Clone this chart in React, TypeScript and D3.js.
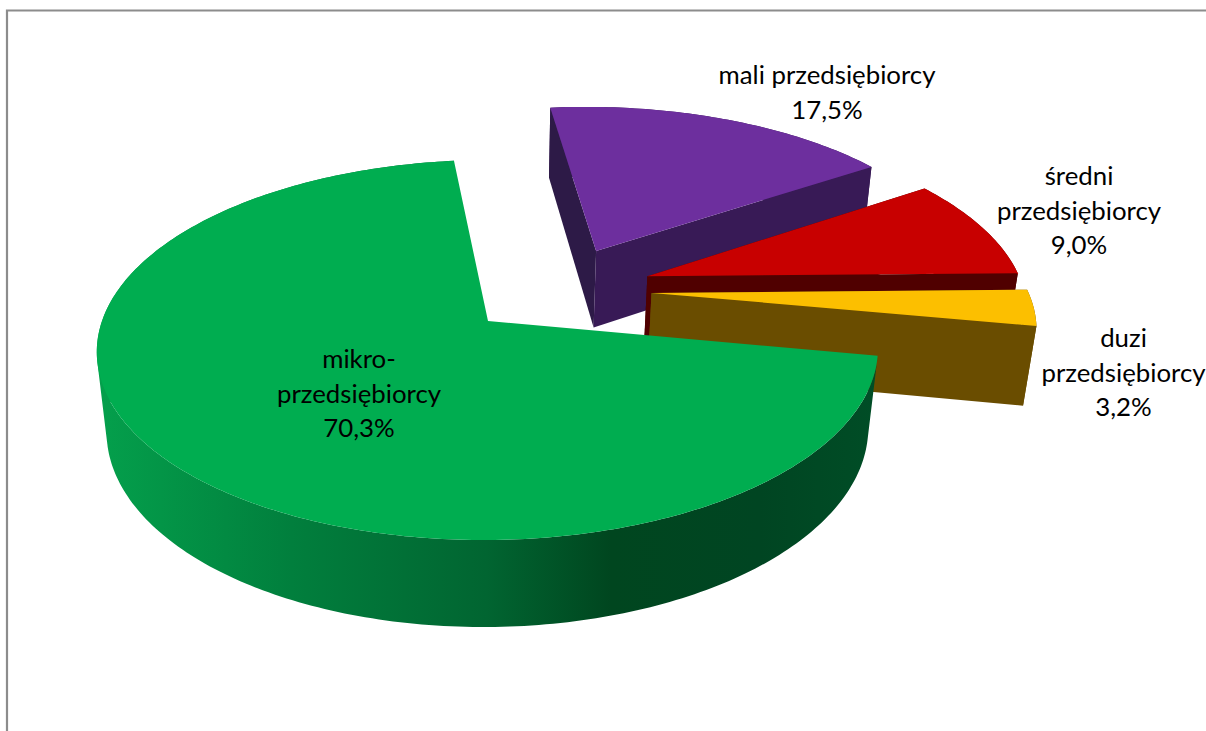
import * as d3 from "d3";

const categories = ["mikro-przedsiębiorcy", "mali przedsiębiorcy", "średni przedsiębiorcy", "duzi przedsiębiorcy"];
const shares = [70.3, 17.5, 9.0, 3.2];
const labelLines = [
  ["mikro-", "przedsiębiorcy", "70,3%"],
  ["mali przedsiębiorcy", "17,5%"],
  ["średni", "przedsiębiorcy", "9,0%"],
  ["duzi", "przedsiębiorcy", "3,2%"],
];
const topColors = ["#00ad50", "#6d2f9e", "#c80000", "#fcbf00"];
const wallColors = ["url(#greenWall)", "#381a56", "#500000", "#6a4d00"];
const sideColors = ["#00421f", "#2d1a47", "#500000", "#6a4d00"];

const width = 1206;
const height = 731;

// perspective model of the tilted disc, fitted to the picture
const cx = 488;
const cy = 321;
const radiusX = 386;
const radiusY = 185.6;
const depth = 81.4;
const tilt = 0.1525;
const shrink = 0.025;
const skew = -4;
const startDeg = 100.5;

// how far each slice is pulled out, in disc units
const explode: [number, number][] = [
  [0, 0],
  [0.293, -0.4],
  [0.426, -0.25],
  [0.432, -0.155],
];
const labelX = [359, 827, 1079, 1123.5];
const labelY = [368, 84, 185, 347];
const lineGap = 34.5;

type Pt = [number, number];

function project(x: number, y: number, z: number): Pt {
  const w = 1 / (1 - tilt * y + shrink * z);
  return [cx + (radiusX * x + skew * y) * w, cy + (radiusY * y + depth * z) * w];
}

const line = d3.line();
const pieLayout = d3
  .pie<number>()
  .sort(null)
  .startAngle((startDeg * Math.PI) / 180)
  .endAngle(((startDeg + 360) * Math.PI) / 180);

const rim = (a: number, i: number, z: number) =>
  project(explode[i][0] + Math.sin(a), explode[i][1] - Math.cos(a), z);
const apex = (i: number, z: number) => project(explode[i][0], explode[i][1], z);

const arcPoints = (a0: number, a1: number, i: number, z: number) => {
  const n = Math.max(4, Math.ceil((a1 - a0) * 60));
  return d3.range(n + 1).map((k) => rim(a0 + ((a1 - a0) * k) / n, i, z));
};

// outer wall as one path of small quads, all wound the same way so overlaps stay filled
const outerWall = (top: Pt[], bottom: Pt[]) =>
  d3
    .pairs(d3.range(top.length))
    .map(([p, q]) => {
      const quad = [top[p], top[q], bottom[q], bottom[p]];
      if (d3.polygonArea(quad) < 0) quad.reverse();
      return line(quad) + "Z";
    })
    .join("");

export default function App() {
  const slices = pieLayout(shares);
  return (
    <svg
      width={width}
      height={height}
      viewBox={`0 0 ${width} ${height}`}
      style={{ position: "absolute", left: 0, top: 0, display: "block", background: "#fff" }}
      role="img"
      aria-label={categories.join(", ")}
    >
      <defs>
        <linearGradient id="greenWall" gradientUnits="userSpaceOnUse" x1={96} x2={877} y1={0} y2={0}>
          <stop offset="0" stopColor="#04a04c" />
          <stop offset="0.25" stopColor="#017f3d" />
          <stop offset="0.5" stopColor="#016531" />
          <stop offset="0.66" stopColor="#00461f" />
          <stop offset="0.85" stopColor="#004522" />
          <stop offset="1" stopColor="#004d26" />
        </linearGradient>
      </defs>

      <path d="M7,731V10.5H1206" fill="none" stroke="#8c8c8c" strokeWidth={2.2} />

      {/* back to front: purple, red, yellow, green */}
      {[1, 2, 3, 0].map((i) => {
        const s = slices[i];
        const a0 = s.startAngle;
        const a1 = s.endAngle;
        const outerTop = arcPoints(a0, a1, i, 0);
        const outerBottom = arcPoints(a0, a1, i, 1);
        const wall = (a: number) => [apex(i, 0), rim(a, i, 0), rim(a, i, 1), apex(i, 1)] as Pt[];
        return (
          <g key={categories[i]}>
            <path d={outerWall(outerTop, outerBottom)} fill={wallColors[i]} />
            {i !== 0 && <path d={line(wall(a0)) + "Z"} fill={sideColors[i]} />}
            {i !== 0 && <path d={line(wall(a1)) + "Z"} fill={wallColors[i]} />}
            <path d={line([apex(i, 0), ...outerTop]) + "Z"} fill={topColors[i]} />
          </g>
        );
      })}

      {labelLines.map((lines, i) =>
        lines.map((t, k) => (
          <text
            key={t + i}
            x={labelX[i]}
            y={labelY[i] + k * lineGap}
            textAnchor="middle"
            fontFamily="Lato, sans-serif"
            fontSize={25.8}
            fill="#000"
          >
            {t}
          </text>
        ))
      )}
    </svg>
  );
}
